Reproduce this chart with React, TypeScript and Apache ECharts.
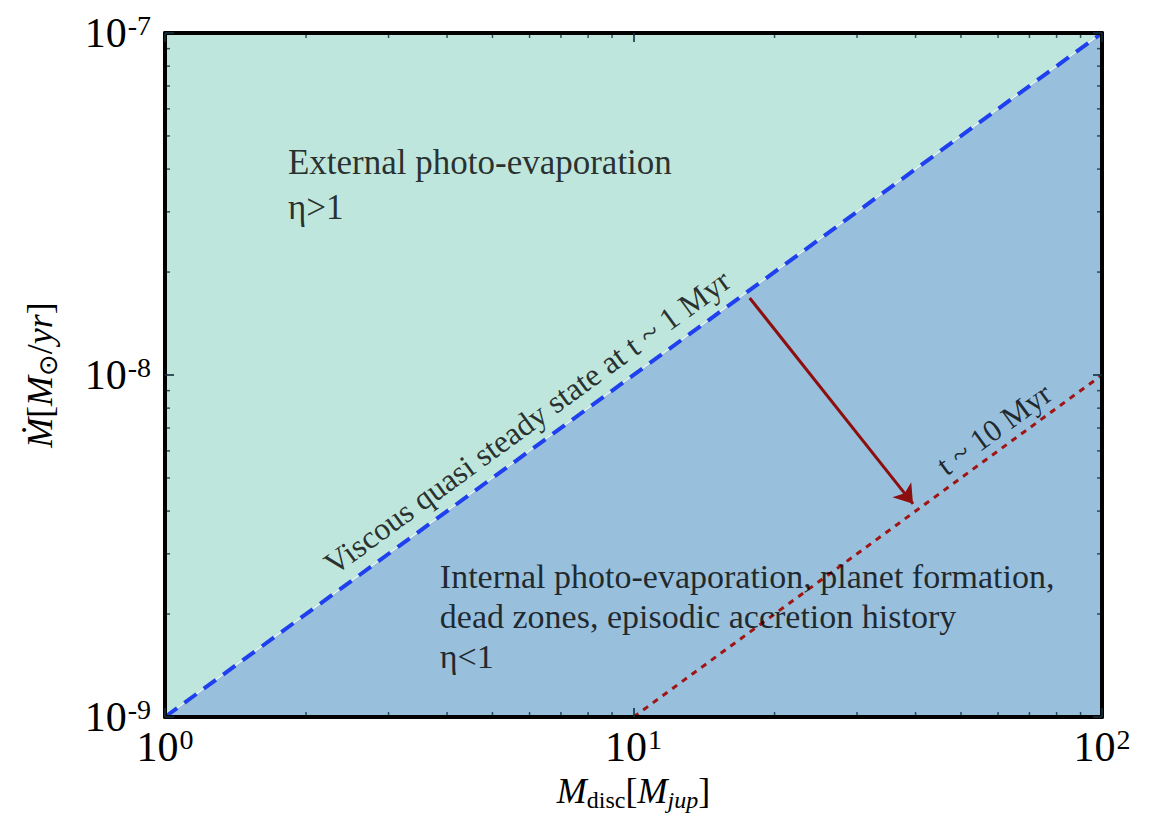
import React, { useEffect, useRef } from "react";
import * as echarts from "echarts";

// ---- data ----
const xRange = [1, 100];
const yRange = [1e-9, 1e-7];
const steadyStateLine = [[1, 1e-9], [100, 1e-7]]; // t ~ 1 Myr
const laterLine = [[10, 1e-9], [100, 1e-8]]; // t ~ 10 Myr
const evolutionArrow = [[17.7, 1.68e-8], [39.5, 4.2e-9]];
const xMinorTicks = [2, 3, 4, 5, 6, 7, 8, 9, 20, 30, 40, 50, 60, 70, 80, 90];
const yMinorTicks = [
  2e-9, 3e-9, 4e-9, 5e-9, 6e-9, 7e-9, 8e-9, 9e-9,
  2e-8, 3e-8, 4e-8, 5e-8, 6e-8, 7e-8, 8e-8, 9e-8,
];
const externalText = "External photo-evaporation\nη>1";
const externalAnchor = [1.83, 4.85e-8];
const internalText =
  "Internal photo-evaporation, planet formation,\ndead zones, episodic accretion history\nη<1";
const internalAnchor = [3.86, 2.95e-9];
const steadyText = "Viscous quasi steady state at t ~ 1 Myr";
const steadyAnchor = [5.93, 7.29e-9];
const laterText = "t ~ 10 Myr";
const laterAnchor = [58.8, 6.95e-9];

const SERIF = "'Liberation Serif', 'DejaVu Serif', serif";
const GREEN = "#bfe6dc";
const BLUE = "#98bfdb";
const TICK = "rgba(20,45,60,0.8)";

function tickFormatter(v: number) {
  const e = Math.round(Math.log10(v));
  return "{b|10}{s|" + e + "}";
}

const labelRich = {
  b: { fontSize: 42, fontFamily: SERIF, color: "#000", lineHeight: 44 },
  s: { fontSize: 28, fontFamily: SERIF, color: "#000", verticalAlign: "top", lineHeight: 24, padding: [0, 0, 0, 1] },
};

function baseAxis(extra: any) {
  return {
    type: "log",
    logBase: 10,
    z: 20,
    splitLine: { show: false },
    axisLine: { show: true, lineStyle: { color: "#000", width: 4 } },
    axisTick: { show: true, inside: true, length: 9, lineStyle: { color: TICK, width: 2 } },
    ...extra,
  };
}

export default function App() {
  const ref = useRef<HTMLDivElement>(null);
  useEffect(() => {
    if (!ref.current) return;
    const chart = echarts.init(ref.current, null, { renderer: "svg" });
    const [x0, x1] = xRange;
    const [y0, y1] = yRange;
    const textLabel = (rotate: number, align: string, vAlign: string, lh: number, fs: number) => ({
      show: true,
      position: "inside",
      rotate,
      align,
      verticalAlign: vAlign,
      fontFamily: SERIF,
      fontSize: fs,
      lineHeight: lh,
      color: "#000",
    });
    const angle = 36.1;
    chart.setOption({
      animation: false,
      grid: {
        left: 165,
        top: 33,
        right: 49,
        bottom: 102,
        show: true,
        backgroundColor: GREEN,
        borderWidth: 0,
      },
      xAxis: [
        baseAxis({
          min: x0,
          max: x1,
          position: "bottom",
          axisLabel: { formatter: tickFormatter, rich: labelRich, margin: 8 },
          name: "{i|M}{sub|disc}{n|[}{i|M}{subi|jup}{n|]}",
          nameLocation: "middle",
          nameGap: 50,
          nameTextStyle: {
            rich: {
              i: { fontSize: 36, fontFamily: SERIF, fontStyle: "italic", color: "#000", lineHeight: 42 },
              n: { fontSize: 36, fontFamily: SERIF, color: "#000", lineHeight: 42 },
              sub: { fontSize: 24, fontFamily: SERIF, color: "#000", verticalAlign: "bottom", lineHeight: 32 },
              subi: { fontSize: 24, fontFamily: SERIF, fontStyle: "italic", color: "#000", verticalAlign: "bottom", lineHeight: 32 },
            },
          },
        }),
        baseAxis({ min: x0, max: x1, position: "top", axisLabel: { show: false } }),
      ],
      yAxis: [
        baseAxis({
          min: y0,
          max: y1,
          position: "left",
          axisLabel: { formatter: tickFormatter, rich: labelRich, margin: 14 },
          name: "{i|Ṁ}{n|[}{i|M}{sub|⊙}{n|/}{i|yr}{n|]}",
          nameLocation: "middle",
          nameRotate: 90,
          nameGap: 104,
          nameTextStyle: {
            rich: {
              i: { fontSize: 36, fontFamily: SERIF, fontStyle: "italic", color: "#000", lineHeight: 42 },
              n: { fontSize: 36, fontFamily: SERIF, color: "#000", lineHeight: 42 },
              sub: { fontSize: 26, fontFamily: "'DejaVu Sans', sans-serif", color: "#000", verticalAlign: "bottom", lineHeight: 34 },
            },
          },
        }),
        baseAxis({ min: y0, max: y1, position: "right", axisLabel: { show: false } }),
      ],
      series: [
        {
          type: "line",
          data: steadyStateLine,
          symbol: "none",
          lineStyle: { color: "#ffffff", width: 1 },
          areaStyle: { color: BLUE, opacity: 1, origin: "start" },
          z: 2,
          silent: true,
        },
        {
          type: "line",
          data: steadyStateLine,
          symbol: "none",
          lineStyle: { color: "#1f40ee", width: 4, type: [15, 9] },
          z: 4,
          silent: true,
        },
        {
          type: "line",
          data: laterLine,
          symbol: "none",
          lineStyle: { color: "#a01414", width: 3, type: [6, 6] },
          z: 4,
          silent: true,
        },
        {
          type: "lines",
          coordinateSystem: "cartesian2d",
          symbol: ["none", "arrow"],
          symbolSize: 18,
          lineStyle: { color: "#8c0e0e", width: 3, opacity: 1 },
          data: [{ coords: evolutionArrow }],
          z: 5,
          silent: true,
        },
        {
          type: "custom",
          renderItem: (params: any, api: any) => {
            const v = api.value(0);
            const b = api.coord([v, y0]);
            const t = api.coord([v, y1]);
            return {
              type: "group",
              children: [
                { type: "line", shape: { x1: b[0], y1: b[1], x2: b[0], y2: b[1] - 5 }, style: { stroke: TICK, lineWidth: 1.5 } },
                { type: "line", shape: { x1: t[0], y1: t[1], x2: t[0], y2: t[1] + 5 }, style: { stroke: TICK, lineWidth: 1.5 } },
              ],
            };
          },
          data: xMinorTicks.map((v) => [v, y0]),
          z: 6,
          silent: true,
        },
        {
          type: "custom",
          renderItem: (params: any, api: any) => {
            const v = api.value(1);
            const l = api.coord([x0, v]);
            const r = api.coord([x1, v]);
            return {
              type: "group",
              children: [
                { type: "line", shape: { x1: l[0], y1: l[1], x2: l[0] + 5, y2: l[1] }, style: { stroke: TICK, lineWidth: 1.5 } },
                { type: "line", shape: { x1: r[0], y1: r[1], x2: r[0] - 5, y2: r[1] }, style: { stroke: TICK, lineWidth: 1.5 } },
              ],
            };
          },
          data: yMinorTicks.map((v) => [x0, v]),
          z: 6,
          silent: true,
        },
        {
          type: "scatter",
          symbolSize: 1,
          itemStyle: { color: "transparent" },
          silent: true,
          z: 7,
          data: [
            { value: externalAnchor, label: { ...textLabel(0, "left", "top", 45, 35), formatter: externalText } },
            { value: internalAnchor, label: { ...textLabel(0, "left", "top", 40, 34), formatter: internalText } },
            { value: steadyAnchor, label: { ...textLabel(angle, "center", "middle", 34, 32), formatter: steadyText } },
            { value: laterAnchor, label: { ...textLabel(angle, "center", "middle", 34, 31), formatter: laterText } },
          ],
        },
      ],
    });
    return () => chart.dispose();
  }, []);
  return (
    <div
      ref={ref}
      style={{ position: "fixed", left: 0, top: 0, width: 1151, height: 819, background: "#fff" }}
    />
  );
}
